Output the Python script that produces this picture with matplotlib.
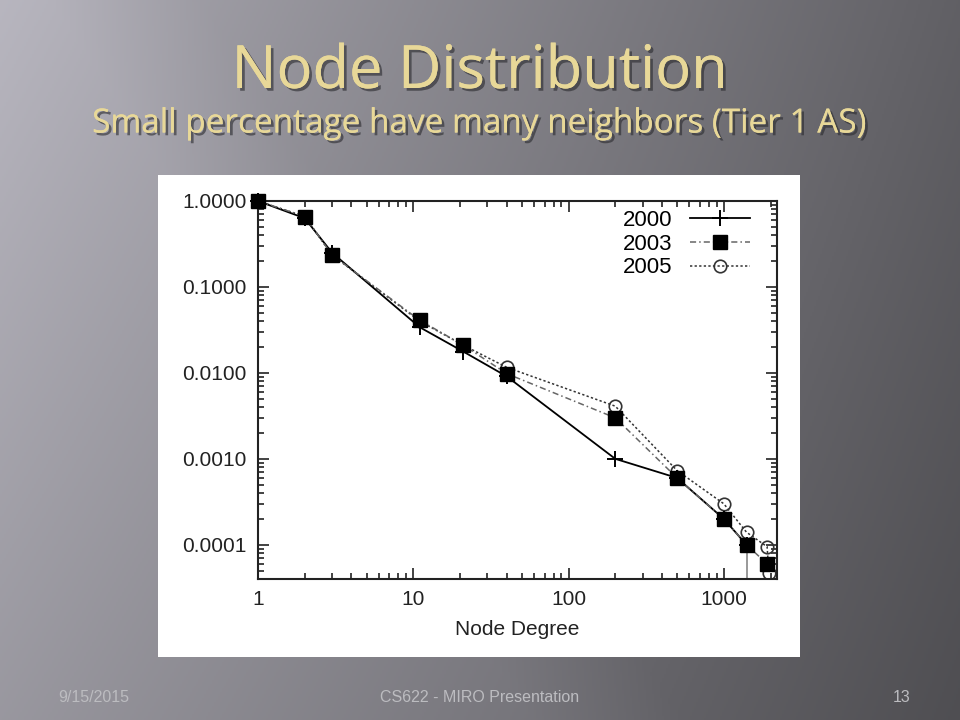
import matplotlib.pyplot as plt
import matplotlib.patheffects as pe
from matplotlib.patches import Rectangle
from matplotlib.ticker import FixedLocator, LogLocator, NullFormatter
import numpy as np

# Node degree distribution
deg_2000 = [1, 2, 3, 11, 21, 40, 200, 500, 1000, 1400]
frac_2000 = [1.0, 0.63, 0.25, 0.034, 0.0177, 0.0091, 0.001, 0.0006, 0.0002, 0.0001]

deg_2003 = [1, 2, 3, 11, 21, 40, 200, 500, 1000, 1400, 1900]
frac_2003 = [1.0, 0.66, 0.235, 0.041, 0.021, 0.0098, 0.003, 0.0006, 0.0002, 0.0001, 0.00006]

deg_2005 = [1, 2, 3, 11, 21, 40, 200, 500, 1000, 1400, 1900, 1950]
frac_2005 = [1.0, 0.66, 0.235, 0.040, 0.021, 0.0116, 0.0041, 0.00073, 0.0003, 0.00014, 0.000095, 0.000047]

y_ticks = [1.0, 0.1, 0.01, 0.001, 0.0001]
x_ticks = [1, 10, 100, 1000]

fig = plt.figure(figsize=(9.6, 7.2), dpi=100)

# slide background gradient
bg = fig.add_axes([0, 0, 1, 1])
xx, yy = np.meshgrid(np.linspace(0, 1, 480), np.linspace(0, 1, 360))
lum = 0.68 - 0.30 * xx - 0.12 * yy + 0.05 * xx * yy
d = xx * 960 - 0.67 * yy * 720
lum += 0.04 * np.clip((200 - d) / 150, 0, 1)
img = np.dstack([lum, lum * 0.99, lum * 1.04]).clip(0, 1)
bg.imshow(img, extent=[0, 1, 0, 1], aspect='auto', origin='upper')
bg.set_xlim(0, 1)
bg.set_ylim(0, 1)
bg.axis('off')

# title + subtitle
shadow = [pe.withSimplePatchShadow(offset=(2, -2), shadow_rgbFace='#2a2a2e', alpha=0.6), pe.Normal()]
fig.text(0.5, 1 - 72 / 720, 'Node Distribution', ha='center', va='center',
         fontsize=43, color='#e8d898', family='Open Sans', path_effects=shadow)
fig.text(0.5, 1 - 124 / 720, 'Small percentage have many neighbors (Tier 1 AS)', ha='center', va='center',
         fontsize=24, color='#e8d898', family='Open Sans', path_effects=shadow)

# footer
foot = dict(va='center', fontsize=11.5, color='#bcbcc0', family='Liberation Sans')
fig.text(58 / 960, 1 - 698 / 720, '9/15/2015', ha='left', **foot)
fig.text(0.5, 1 - 698 / 720, 'CS622 - MIRO Presentation', ha='center', **foot)
fig.text(911 / 960, 1 - 698 / 720, '13', ha='right', **foot)

# white picture box
fig.patches.append(Rectangle((158 / 960, 1 - 657 / 720), 642 / 960, 482 / 720,
                             transform=fig.transFigure, facecolor='white', edgecolor='none', zorder=1))

ax = fig.add_axes([258 / 960, 1 - 579 / 720, 519 / 960, 378 / 720])
ax.set_zorder(2)
ax.set_facecolor('white')

ax.plot(deg_2000, frac_2000, color='black', lw=1.3, marker='+', ms=11, mew=1.4, label='2000',
        zorder=3, clip_on=False)
ax.vlines(deg_2000[-1], 4e-5, frac_2000[-1], color='#888888', lw=1.2, zorder=2)
ax.plot(deg_2003, frac_2003, color='#666666', lw=1.1, ls=(0, (4, 2, 1, 2)), marker='s', ms=9.5,
        mfc='black', mec='black', label='2003', zorder=4, clip_on=False)
ax.plot(deg_2005, frac_2005, color='#333333', lw=1.1, ls=(0, (1.5, 1.5)), marker='o', ms=9,
        mfc='none', mec='#333333', mew=1.2, label='2005', zorder=2)

ax.set_xscale('log')
ax.set_yscale('log')
ax.set_xlim(1, 2200)
ax.set_ylim(4e-5, 1.0)
ax.yaxis.set_major_locator(FixedLocator(y_ticks))
ax.set_yticklabels(['%.4f' % v for v in y_ticks])
ax.xaxis.set_major_locator(FixedLocator(x_ticks))
ax.set_xticklabels([str(v) for v in x_ticks])
ax.xaxis.set_minor_locator(LogLocator(base=10, subs=np.arange(2, 10)))
ax.yaxis.set_minor_locator(LogLocator(base=10, subs=np.arange(2, 10)))
ax.xaxis.set_minor_formatter(NullFormatter())
ax.yaxis.set_minor_formatter(NullFormatter())

ax.tick_params(which='both', direction='in', top=True, right=True, colors='#222222',
               labelsize=15, width=1.2)
ax.tick_params(which='major', length=8, pad=8)
ax.tick_params(which='minor', length=4)
for lab in ax.get_xticklabels() + ax.get_yticklabels():
    lab.set_family('Liberation Sans')
for s in ax.spines.values():
    s.set_linewidth(1.5)
    s.set_color('#222222')

ax.set_xlabel('Node Degree', fontsize=15, family='Liberation Sans', color='#222222', labelpad=8)

leg = ax.legend(loc='upper right', bbox_to_anchor=(492 / 519, 369 / 378), frameon=False,
                markerfirst=False, handlelength=2.7, labelspacing=0.12, borderpad=0, borderaxespad=0,
                prop={'family': 'Liberation Sans', 'size': 16})

plt.savefig('out.png', dpi=100)
